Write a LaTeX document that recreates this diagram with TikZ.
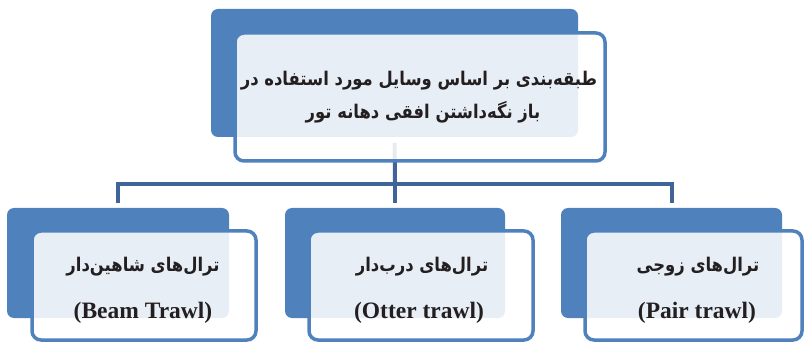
\documentclass[tikz,border=0pt]{standalone}
\usepackage{fontspec}
\usepackage{graphicx}
\setmainfont{Liberation Serif}
\newfontfamily\fafont[Script=Arabic]{DejaVu Sans}
\TeXXeTstate=1
\definecolor{boxblue}{RGB}{79,129,189}
\definecolor{linkblue}{RGB}{62,100,152}
\definecolor{inkdark}{RGB}{35,31,32}
% Persian line: right-to-left, slightly taller letterforms
\newcommand{\faline}[1]{\scalebox{1}[1.15]{\beginR #1\endR}}
\tikzset{
  backbox/.style={fill=boxblue, rounded corners=7pt, inner sep=0pt, outer sep=0pt},
  frontbox/.style={draw=boxblue, line width=3.5pt, fill=white, fill opacity=0.87,
                   rounded corners=9pt, inner sep=0pt, outer sep=0pt},
  link/.style={draw=linkblue, line width=4pt},
  fatext/.style={anchor=base, inner sep=0pt, text=inkdark,
                 font=\fafont\bfseries\fontsize{16.4}{20}\selectfont},
  entext/.style={anchor=base, inner sep=0pt, text=inkdark,
                 font=\bfseries\fontsize{23.5}{27}\selectfont},
}
\begin{document}
\begin{tikzpicture}[x=1pt,y=-1pt]
\useasboundingbox (0,0) rectangle (805,344);

% back plates
\node[backbox, minimum width=367pt, minimum height=128pt] (topback) at (394.5,73) {};
\node[backbox, minimum width=222pt, minimum height=110pt] (lback) at (118,263) {};
\node[backbox, minimum width=220pt, minimum height=110pt] (mback) at (395,263) {};
\node[backbox, minimum width=221pt, minimum height=110pt] (rback) at (671.5,263) {};

% connectors
\coordinate (bus) at (395,184);
\draw[link, shorten <=6pt] (topback.south) -- (bus);
\draw[link, shorten >=5pt] (bus) -| (lback.north);
\draw[link, shorten >=5pt] (bus) -- (mback.north);
\draw[link, shorten >=5pt] (bus) -| (rback.north);

% front cards
\node[frontbox, minimum width=370pt, minimum height=128pt] (topfront) at (420,97) {};
\node[frontbox, minimum width=224pt, minimum height=109pt] (lfront) at (144,285.5) {};
\node[frontbox, minimum width=224pt, minimum height=109pt] (mfront) at (421,285.5) {};
\node[frontbox, minimum width=217pt, minimum height=109pt] (rfront) at (693.5,285.5) {};

% labels
\node[fatext] (t1) at (419,86) {\faline{طبقه^^^^200cبندی بر اساس وسایل مورد استفاده در}};
\node[fatext] (t2) at (423,119) {\faline{باز نگه^^^^200cداشتن افقی دهانه تور}};

\node[fatext] (l1) at (143,272) {\faline{ترال^^^^200cهای شاهین^^^^200cدار}};
\node[entext] (l2) at (143,318) {(Beam Trawl)};
\node[fatext] (m1) at (422,272) {\faline{ترال^^^^200cهای درب^^^^200cدار}};
\node[entext] (m2) at (419,318) {(Otter trawl)};
\node[fatext] (r1) at (698,272) {\faline{ترال^^^^200cهای زوجی}};
\node[entext] (r2) at (697,318) {(Pair trawl)};
\end{tikzpicture}
\end{document}
